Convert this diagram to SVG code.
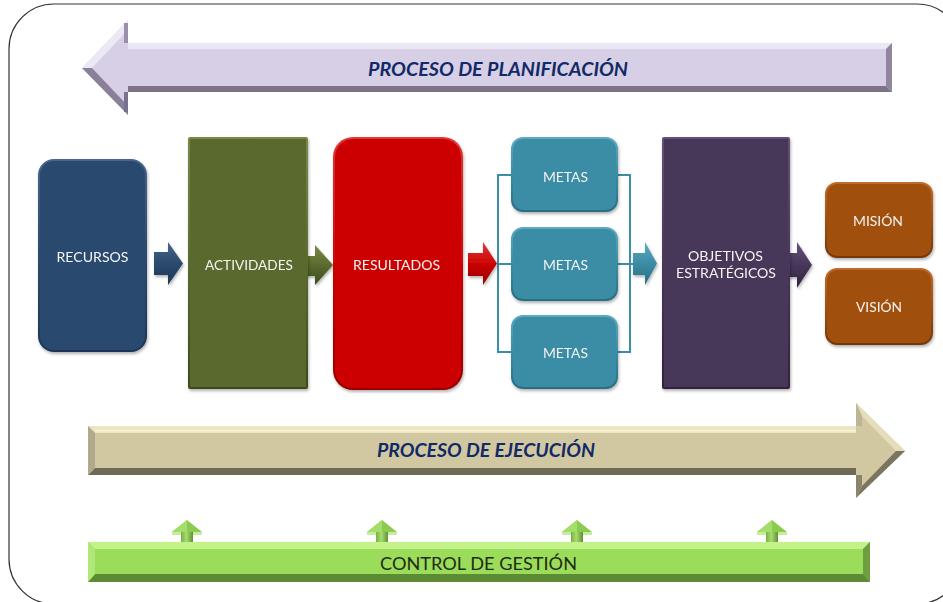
<svg xmlns="http://www.w3.org/2000/svg" width="943" height="602" viewBox="0 0 943 602">
<defs>
<style>
.lbl{font-family:Lato,"Open Sans","Liberation Sans",sans-serif;font-size:14px;fill:#F4F4F4;text-anchor:middle}
.ttl{font-family:Lato,"Open Sans","Liberation Sans",sans-serif;font-size:18px;font-weight:bold;font-style:italic;fill:#122A66;text-anchor:middle}
.ctl{font-family:Lato,"Open Sans","Liberation Sans",sans-serif;font-size:18px;fill:#1E2C10;text-anchor:middle}
.brk{fill:none;stroke:#3B8EA7;stroke-width:2}
</style>
<filter id="sh" x="-10%" y="-10%" width="130%" height="130%">
<feDropShadow dx="1" dy="2" stdDeviation="1.5" flood-color="#000" flood-opacity="0.3"/>
</filter>
<linearGradient id="gBlue" x1="0" y1="0" x2="0" y2="1"><stop offset="0" stop-color="#46668A"/><stop offset="0.5" stop-color="#2B4A6E"/><stop offset="1" stop-color="#1E3656"/></linearGradient>
<linearGradient id="gOlive" x1="0" y1="0" x2="0" y2="1"><stop offset="0" stop-color="#788A45"/><stop offset="0.5" stop-color="#5A6B2E"/><stop offset="1" stop-color="#3E4A1E"/></linearGradient>
<linearGradient id="gRed" x1="0" y1="0" x2="0" y2="1"><stop offset="0" stop-color="#E03838"/><stop offset="0.5" stop-color="#CC0606"/><stop offset="1" stop-color="#960000"/></linearGradient>
<linearGradient id="gTeal" x1="0" y1="0" x2="0" y2="1"><stop offset="0" stop-color="#5CAAC2"/><stop offset="0.5" stop-color="#3A8CA5"/><stop offset="1" stop-color="#286E84"/></linearGradient>
<linearGradient id="gPurple" x1="0" y1="0" x2="0" y2="1"><stop offset="0" stop-color="#625278"/><stop offset="0.5" stop-color="#47375A"/><stop offset="1" stop-color="#30243E"/></linearGradient>
<linearGradient id="gOrange" x1="0" y1="0" x2="0" y2="1"><stop offset="0" stop-color="#C06C2A"/><stop offset="0.5" stop-color="#A0500E"/><stop offset="1" stop-color="#733808"/></linearGradient>
<linearGradient id="gShaft" x1="0" y1="0" x2="1" y2="0"><stop offset="0" stop-color="#76B044"/><stop offset="0.45" stop-color="#A6DC6E"/><stop offset="1" stop-color="#5E9232"/></linearGradient>
</defs>

<!-- outer frame -->
<rect x="9" y="4" width="953" height="600" rx="45" ry="45" fill="#FFFFFF" stroke="#333333" stroke-width="1.2"/>

<!-- PROCESO DE PLANIFICACIÓN arrow -->
<g id="planificacion">
<polygon points="82,68 128,20 128,43 892,43 892,92 128,92 128,115" fill="#D7CFE6"/>
<polygon points="128,43 892,43 886,49 128,49" fill="#ECE7F5"/>
<polygon points="128,86 886,86 892,92 128,92" fill="#7C7389"/>
<polygon points="886,49 892,43 892,92 886,86" fill="#8F859D"/>
<polygon points="82,68 128,20 128,30 92,68" fill="#EDE8F6"/>
<polygon points="82,68 92,68 128,106 128,115" fill="#8A809A"/>
<rect x="124" y="23" width="4" height="20" fill="#9A90AA"/>
<rect x="124" y="92" width="4" height="20" fill="#7A7090"/>
<text class="ttl" x="498" y="76" textLength="260" lengthAdjust="spacingAndGlyphs">PROCESO DE PLANIFICACIÓN</text>
</g>

<!-- connectors -->
<g id="connectors">
<path class="brk" d="M511,175 H498 V352 H511 M498,264 H511"/>
<path class="brk" d="M618,175 H630 V352 H618 M618,264 H634"/>
<g filter="url(#sh)">
<polygon points="154,252 168,252 168,242 183,263.5 168,285 168,275 154,275" fill="url(#gBlue)"/>
<polygon points="302,256 315,256 315,245 333,265 315,285 315,276 302,276" fill="url(#gOlive)"/>
<polygon points="468,253 483,253 483,242 497,263.5 483,285 483,276 468,276" fill="url(#gRed)"/>
<polygon points="633,253 645,253 645,242 657,263.5 645,285 645,275 633,275" fill="url(#gTeal)"/>
<polygon points="785,253 797,253 797,242 812,265 797,288 797,277 785,277" fill="url(#gPurple)"/>
</g>
</g>

<!-- nodes -->
<g id="recursos" filter="url(#sh)">
<rect x="38" y="159" width="109" height="193" rx="16" fill="url(#gBlue)"/>
<rect x="40" y="161" width="105" height="189" rx="14" fill="#2B4A6E"/>
<text class="lbl" x="92.5" y="262" textLength="72" lengthAdjust="spacingAndGlyphs">RECURSOS</text>
</g>
<g id="actividades" filter="url(#sh)">
<rect x="188" y="137" width="120" height="252" rx="2" fill="url(#gOlive)"/>
<rect x="190" y="139" width="116" height="248" fill="#5A6B2E"/>
<text class="lbl" x="249" y="270" textLength="88" lengthAdjust="spacingAndGlyphs">ACTIVIDADES</text>
</g>
<g id="resultados" filter="url(#sh)">
<rect x="333" y="137" width="130" height="253" rx="20" fill="url(#gRed)"/>
<rect x="335" y="139" width="126" height="249" rx="18" fill="#CC0606"/>
<text class="lbl" x="396.5" y="270" textLength="87" lengthAdjust="spacingAndGlyphs">RESULTADOS</text>
</g>
<g id="metas1" filter="url(#sh)">
<rect x="511" y="137" width="107" height="75" rx="12" fill="url(#gTeal)"/>
<rect x="513" y="139" width="103" height="71" rx="10" fill="#3A8CA5"/>
<text class="lbl" x="565.5" y="182" textLength="45" lengthAdjust="spacingAndGlyphs">METAS</text>
</g>
<g id="metas2" filter="url(#sh)">
<rect x="511" y="227" width="107" height="74" rx="12" fill="url(#gTeal)"/>
<rect x="513" y="229" width="103" height="70" rx="10" fill="#3A8CA5"/>
<text class="lbl" x="565.5" y="270" textLength="45" lengthAdjust="spacingAndGlyphs">METAS</text>
</g>
<g id="metas3" filter="url(#sh)">
<rect x="511" y="315" width="107" height="74" rx="12" fill="url(#gTeal)"/>
<rect x="513" y="317" width="103" height="70" rx="10" fill="#3A8CA5"/>
<text class="lbl" x="565.5" y="358" textLength="45" lengthAdjust="spacingAndGlyphs">METAS</text>
</g>
<g id="objetivos" filter="url(#sh)">
<rect x="662" y="137" width="128" height="252" rx="2" fill="url(#gPurple)"/>
<rect x="664" y="139" width="124" height="248" fill="#47375A"/>
<text class="lbl" x="725.5" y="261" textLength="75" lengthAdjust="spacingAndGlyphs">OBJETIVOS</text>
<text class="lbl" x="726" y="278" textLength="100" lengthAdjust="spacingAndGlyphs">ESTRATÉGICOS</text>
</g>
<g id="mision" filter="url(#sh)">
<rect x="825" y="182" width="108" height="76" rx="12" fill="url(#gOrange)"/>
<rect x="827" y="184" width="104" height="72" rx="10" fill="#A0500E"/>
<text class="lbl" x="878" y="226" textLength="50" lengthAdjust="spacingAndGlyphs">MISIÓN</text>
</g>
<g id="vision" filter="url(#sh)">
<rect x="825" y="268" width="108" height="77" rx="12" fill="url(#gOrange)"/>
<rect x="827" y="270" width="104" height="73" rx="10" fill="#A0500E"/>
<text class="lbl" x="879" y="312" textLength="46" lengthAdjust="spacingAndGlyphs">VISIÓN</text>
</g>

<!-- PROCESO DE EJECUCIÓN arrow -->
<g id="ejecucion">
<polygon points="88,426 856,426 856,403 905,451 856,498 856,475 88,475" fill="#D1C8A1"/>
<polygon points="88,426 856,426 856,433 95,433" fill="#EDE5C2"/>
<rect x="95" y="430" width="761" height="1.5" fill="#F8F1D6"/>
<polygon points="95,468 856,468 856,475 88,475" fill="#6F6A56"/>
<polygon points="88,426 95,433 95,468 88,475" fill="#B0A98C"/>
<polygon points="856,403 905,451 896,451 862,416" fill="#E6DEBB"/>
<polygon points="856,498 905,451 896,451 862,486" fill="#7A7560"/>
<polygon points="856,403 862,416 862,426 856,426" fill="#BDB595"/>
<polygon points="856,475 862,475 862,486 856,498" fill="#8A846C"/>
<text class="ttl" x="486" y="457" textLength="218" lengthAdjust="spacingAndGlyphs">PROCESO DE EJECUCIÓN</text>
</g>

<!-- small up arrows -->
<g id="up-arrows">
<g>
<polygon points="172,532 187,520 202,532" fill="#8BCB50"/><polygon points="172,532 187,520 187,532" fill="#A4DE6A"/>
<rect x="172" y="532" width="30" height="3" fill="#C6EC9C"/><rect x="181" y="532" width="12" height="10" fill="url(#gShaft)"/>
</g>
<g>
<polygon points="367,532 382,520 397,532" fill="#8BCB50"/><polygon points="367,532 382,520 382,532" fill="#A4DE6A"/>
<rect x="367" y="532" width="30" height="3" fill="#C6EC9C"/><rect x="376" y="532" width="12" height="10" fill="url(#gShaft)"/>
</g>
<g>
<polygon points="562,532 577,520 592,532" fill="#8BCB50"/><polygon points="562,532 577,520 577,532" fill="#A4DE6A"/>
<rect x="562" y="532" width="30" height="3" fill="#C6EC9C"/><rect x="571" y="532" width="12" height="10" fill="url(#gShaft)"/>
</g>
<g>
<polygon points="757,532 772,520 787,532" fill="#8BCB50"/><polygon points="757,532 772,520 772,532" fill="#A4DE6A"/>
<rect x="757" y="532" width="30" height="3" fill="#C6EC9C"/><rect x="766" y="532" width="12" height="10" fill="url(#gShaft)"/>
</g>
</g>

<!-- CONTROL DE GESTIÓN bar -->
<g id="control">
<rect x="88" y="542" width="782" height="40" fill="#9BDD5B"/>
<polygon points="88,542 870,542 863,549 95,549" fill="#C2F288"/>
<polygon points="95,574 863,574 870,582 88,582" fill="#5C8B34"/>
<polygon points="88,542 95,549 95,574 88,582" fill="#B0E878"/>
<polygon points="870,542 870,582 863,574 863,549" fill="#6E9E40"/>
<text class="ctl" x="478.5" y="570" textLength="197" lengthAdjust="spacingAndGlyphs">CONTROL DE GESTIÓN</text>
</g>
</svg>
